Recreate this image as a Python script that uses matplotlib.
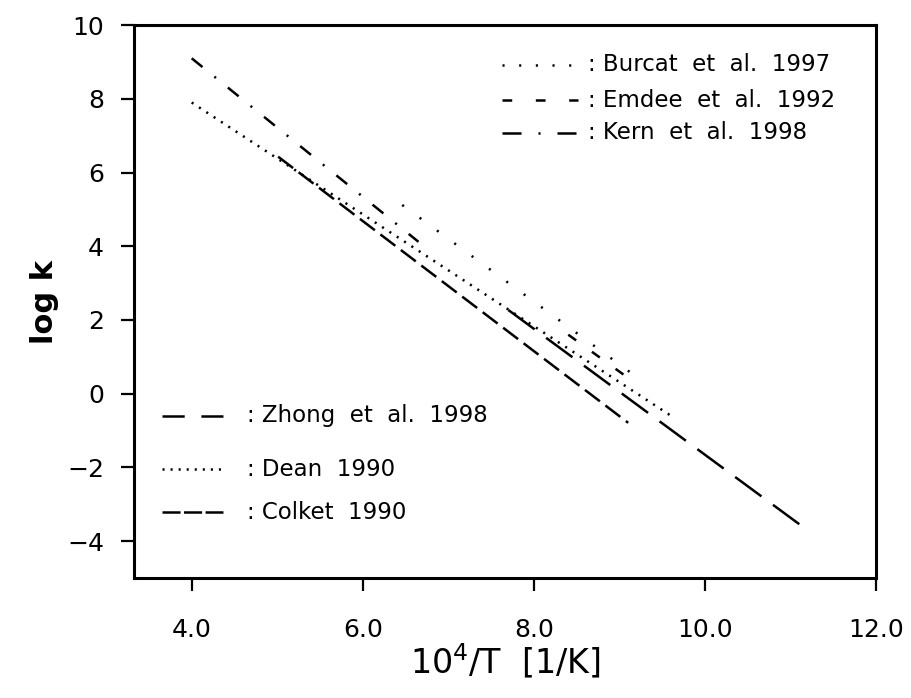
import matplotlib
matplotlib.use("Agg")
import matplotlib.pyplot as plt

# series: (x start, x end), (log k start, log k end)
names = ["Burcat  et  al.  1997", "Emdee  et  al.  1992", "Kern  et  al.  1998",
         "Zhong  et  al.  1998", "Dean  1990", "Colket  1990"]
x_burcat = [6.46, 9.27]
y_burcat = [5.12, 0.33]
x_emdee = [8.40, 9.08]
y_emdee = [1.60, 0.46]
x_kern = [4.0, 6.65]
y_kern = [9.10, 4.12]
x_zhong = [7.70, 11.11]
y_zhong = [2.27, -3.56]
x_dean = [4.0, 9.62]
y_dean = [7.90, -0.63]
x_colket = [5.01, 9.10]
y_colket = [6.43, -0.79]

xticks = [4.0, 6.0, 8.0, 10.0, 12.0]
yticks = [-4, -2, 0, 2, 4, 6, 8, 10]

plt.rcParams['font.family'] = ['DejaVu Sans']
plt.rcParams['lines.scale_dashes'] = False

styles = [(0, (1.5, 14)), (0, (7, 14)), (0, (10, 11, 1.5, 11)),
          (0, (23.5, 10.3)), (0, (1.5, 4.8)), (0, (13.5, 5))]
# the keys in the legend use a tighter version of each pattern
key_styles = [(0, (1.5, 10.5)), (0, (7, 17)), (0, (13.7, 12.2, 1.5, 12.2)),
              (0, (16, 12)), (0, (1.5, 4.3)), (0, (13, 2.5))]
xs = [x_burcat, x_emdee, x_kern, x_zhong, x_dean, x_colket]
ys = [y_burcat, y_emdee, y_kern, y_zhong, y_dean, y_colket]

fig = plt.figure(figsize=(9.11, 6.98), dpi=100)
ax = fig.add_axes([0.147, 0.172, 0.815, 0.792])

for x, y, ls in zip(xs, ys, styles):
    ax.plot(x, y, color='black', lw=1.8, linestyle=ls, dash_capstyle='butt')

ax.set_xlim(3.325, 12.0)
ax.set_ylim(-5, 10)
ax.set_xticks(xticks)
ax.set_xticklabels(["%.1f" % t for t in xticks])
ax.set_yticks(yticks)
ax.tick_params(direction='out', length=9.5, width=1.6, labelsize=18, pad=12)
ax.tick_params(axis='x', pad=19)
for s in ax.spines.values():
    s.set_linewidth(2.2)

ax.set_xlabel(r'10$^4$/T  [1/K]', fontsize=24, labelpad=0)
ax.set_ylabel('log k', fontsize=22, fontweight='bold', labelpad=6)

# hand-placed legend keys (axes fraction)
key_pos = [(0.496, 0.598, 0.611, 0.928), (0.496, 0.598, 0.611, 0.864),
           (0.496, 0.598, 0.611, 0.805), (0.038, 0.120, 0.152, 0.293),
           (0.038, 0.120, 0.152, 0.197), (0.038, 0.120, 0.152, 0.119)]
for (x0, x1, xt, yk), ls, name in zip(key_pos, key_styles, names):
    ax.plot([x0, x1], [yk, yk], transform=ax.transAxes, color='black',
            lw=1.8, linestyle=ls, dash_capstyle='butt')
    ax.text(xt, yk, ': ' + name, transform=ax.transAxes, fontsize=16.5,
            va='center', ha='left')

fig.savefig('out.png', dpi=100)
